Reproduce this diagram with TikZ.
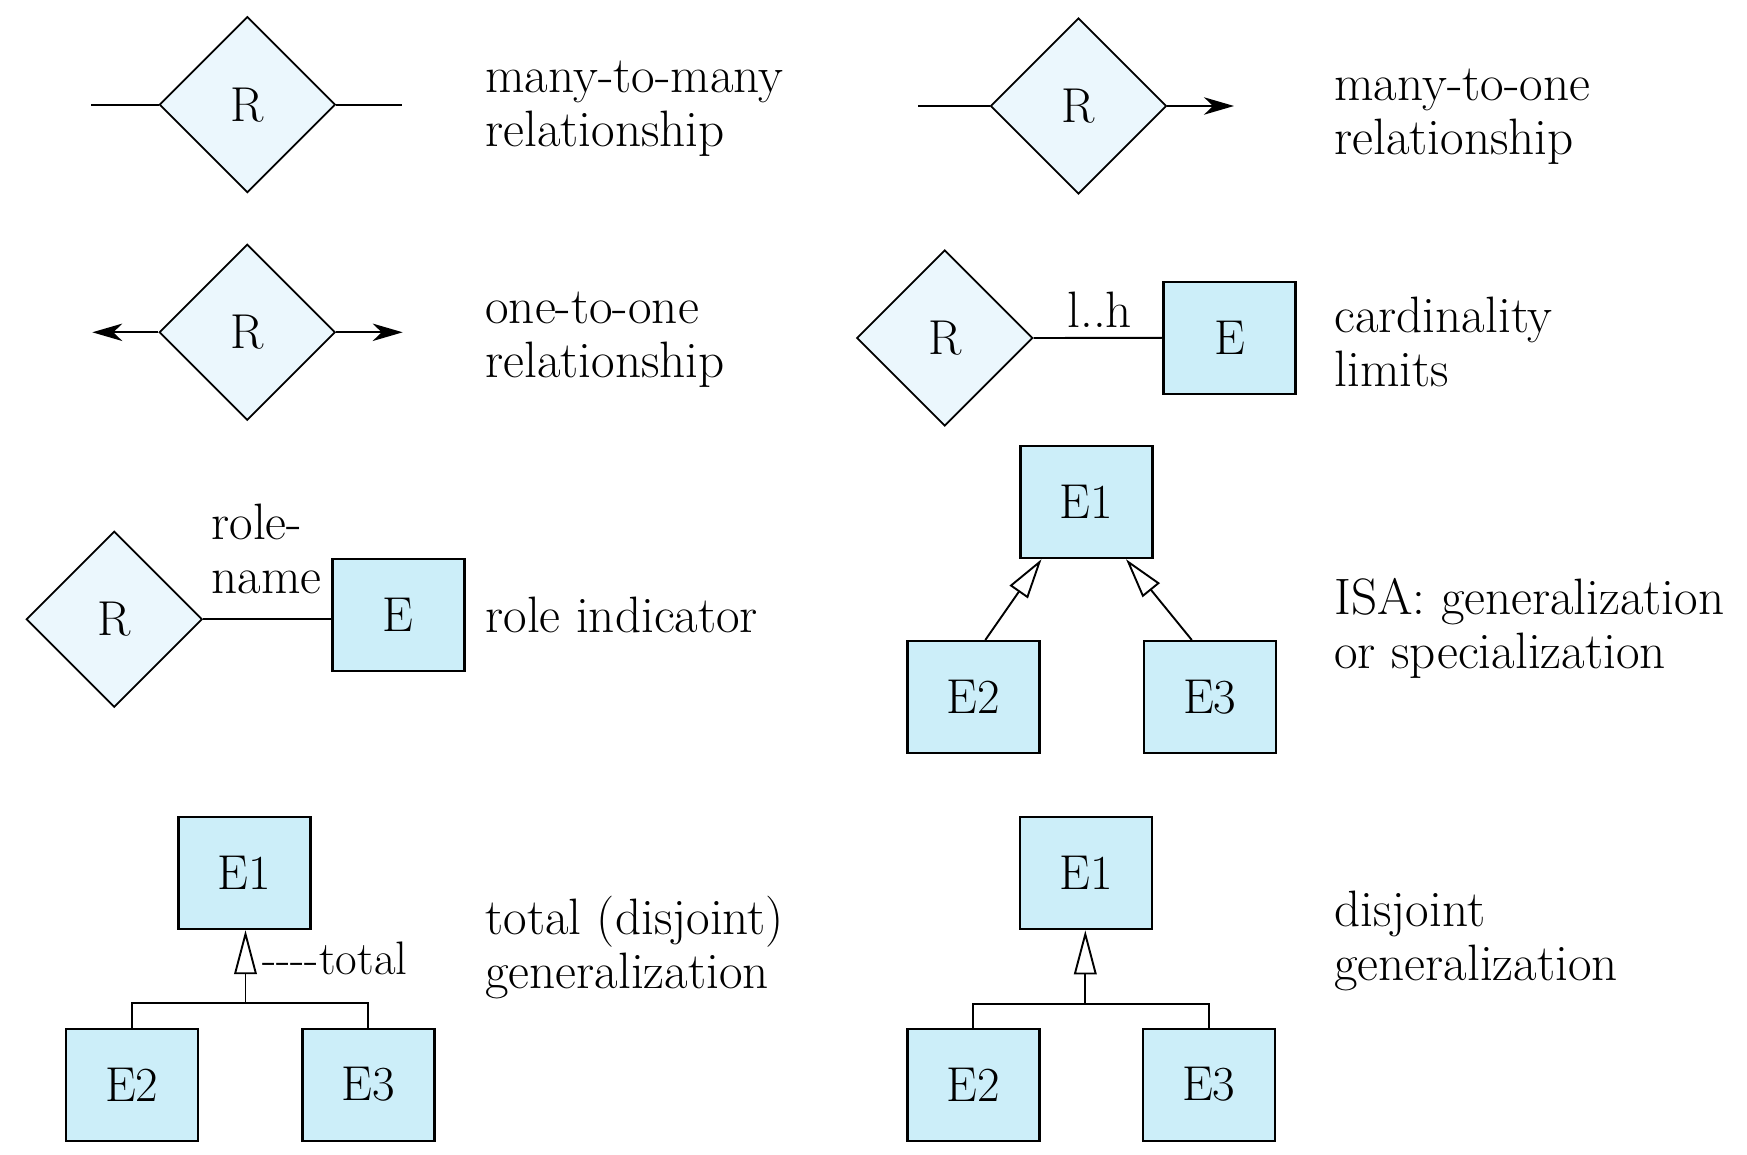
\documentclass[tikz,border=0pt]{standalone}
\usepackage{fontspec}
\usetikzlibrary{shapes.geometric,arrows.meta,calc}
\definecolor{dfill}{HTML}{EBF7FD}
\definecolor{efill}{HTML}{CCEEF9}
\begin{document}
\begin{tikzpicture}[x=0.5pt,y=-0.5pt,
  every node/.style={font=\fontsize{24.5pt}{27pt}\selectfont\addfontfeatures{FakeBold=0.3}},
  rel/.style={diamond, draw, fill=dfill, line width=0.9pt, minimum width=88pt, minimum height=88pt, inner sep=0pt},
  ent/.style={rectangle, draw, fill=efill, line width=1.2pt, minimum width=66pt, minimum height=56pt, inner sep=0pt},
  conn/.style={line width=0.95pt},
  tip/.style={-{Stealth[length=15pt,width=8.7pt,inset=4.5pt]}},
  otri/.style={-{Triangle[open,length=20pt,width=11pt]}},
  otrib/.style={-{Triangle[open,length=22pt,width=11.3pt]}},
  lab/.style={anchor=base west, inner sep=0pt, font=\fontsize{25.6pt}{27pt}\selectfont\addfontfeatures{FakeBold=0.3}},
  small/.style={anchor=base west, inner sep=0pt, font=\fontsize{23.5pt}{27pt}\selectfont\addfontfeatures{FakeBold=0.3}}]
\newcommand{\twolines}[2]{\begin{tabular}[t]{@{}l@{}}#1\\#2\end{tabular}}
\useasboundingbox (0,0) rectangle (1747,1155);

% many-to-many
\node[rel] (r1) at (247.4,104.7) {R};
\coordinate (r1a) at (91.4,104.7);
\coordinate (r1b) at (402.2,104.7);
\draw[conn] (r1a) -- (r1.west) (r1.east) -- (r1b);
\node[lab] (t1) at (485,92.3) {\twolines{many-to-many}{relationship}};

% many-to-one
\node[rel] (r2) at (1078.5,106) {R};
\coordinate (r2a) at (918,106);
\coordinate (r2b) at (1234,106);
\draw[conn] (r2a) -- (r2.west);
\draw[conn,tip] (r2.east) -- (r2b);
\node[lab] (t2) at (1334,100.5) {\twolines{many-to-one}{relationship}};

% one-to-one
\node[rel] (r3) at (247.2,332.3) {R};
\coordinate (r3a) at (92.3,332.3);
\coordinate (r3b) at (402.7,332.3);
\draw[conn,tip] (r3.west) -- (r3a);
\draw[conn,tip] (r3.east) -- (r3b);
\node[lab] (t3) at (485,324) {\twolines{one-to-one}{relationship}};

% cardinality
\node[rel] (r4) at (944.7,338) {R};
\node[ent] (e4) at (1229.5,337.8) {E};
\draw[conn] (r4.east) -- (e4.west);
\node[lab] (lh) at (1067,327.7) {l..h};
\node[lab] (t4) at (1334,333) {\twolines{cardinality}{limits}};

% role indicator
\node[rel] (r5) at (114.2,619.2) {R};
\node[ent] (e5) at (398.3,615.2) {E};
\draw[conn] (r5.east) -- (r5.east -| e5.west);
\node[lab] (rn) at (211,539) {\twolines{role-}{name}};
\node[lab] (t5) at (485,632) {role indicator};

% ISA
\node[ent] (i1) at (1086.5,502) {E1};
\node[ent] (i2) at (973.3,697.2) {E2};
\node[ent] (i3) at (1209.8,697.2) {E3};
\draw[conn,otri] ([xshift=6pt]i2.north) -- ([xshift=-22.5pt]i1.south);
\draw[conn,otri] ([xshift=-9pt]i3.north) -- ([xshift=19.75pt]i1.south);
\node[lab] (t6) at (1334,614) {\twolines{ISA: generalization}{or specialization}};

% total generalization
\node[ent] (te1) at (244.5,873) {E1};
\node[ent] (te2) at (131.7,1084.7) {E2};
\node[ent] (te3) at (368.3,1084.7) {E3};
\coordinate (tj) at (245.5,1003.3);
\draw[conn,otrib] (tj) -- (tj |- te1.south);
\draw[conn] (te2.north) |- (tj) -| (te3.north);
\node[small] (tot) at (262,974) {-{}-{}-{}-total};
\node[lab] (t7) at (485,934) {\twolines{total (disjoint)}{generalization}};

% disjoint generalization
\node[ent] (de1) at (1086.2,873.2) {E1};
\node[ent] (de2) at (973.3,1084.7) {E2};
\node[ent] (de3) at (1208.7,1084.7) {E3};
\coordinate (dj) at (1085.3,1004);
\draw[conn,otrib] (dj) -- (dj |- de1.south);
\draw[conn] (de2.north) |- (dj) -| (de3.north);
\node[lab] (t8) at (1334,926) {\twolines{disjoint}{generalization}};
\end{tikzpicture}
\end{document}
